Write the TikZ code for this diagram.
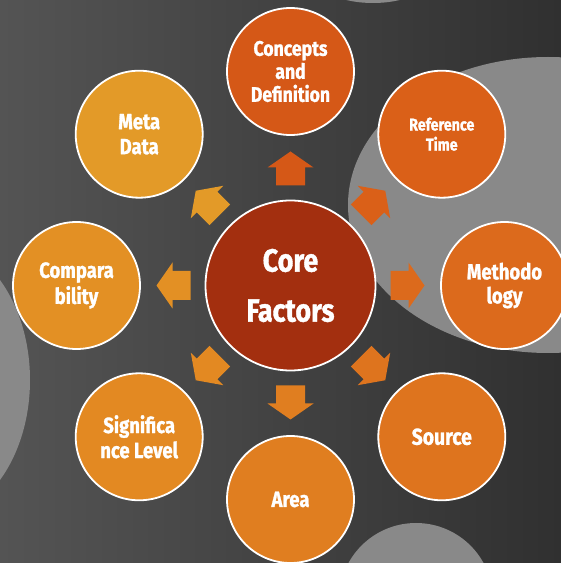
\documentclass[tikz,border=0pt]{standalone}
\usepackage{fontspec}
\setmainfont[FakeStretch=0.84, BoldFeatures={FakeBold=1.2}]{Fira Sans}
\usetikzlibrary{calc}
\definecolor{bgl}{HTML}{545454}
\definecolor{bgr}{HTML}{303030}
\definecolor{lgray}{HTML}{898989}
\definecolor{ccore}{HTML}{A32F0F}
\definecolor{cconc}{HTML}{D55817}
\definecolor{cref}{HTML}{DA6018}
\definecolor{cmeth}{HTML}{DC6A1C}
\definecolor{csrc}{HTML}{DE741E}
\definecolor{carea}{HTML}{E07E20}
\definecolor{csig}{HTML}{E38922}
\definecolor{ccomp}{HTML}{E39024}
\definecolor{cmeta}{HTML}{E39A28}
\newcommand\blockarrow[2]{%
  \fill[#2, shift={($(core)+(#1:117)$)}, rotate=#1]
    (-17,-14.5) -- (1,-14.5) -- (1,-23) -- (17,0) -- (1,23) -- (1,14.5) -- (-17,14.5) -- cycle;}
\begin{document}
\begin{tikzpicture}[x=1pt,y=1pt,
  circ/.style={circle, draw=white, line width=1.8pt, minimum size=127pt, inner sep=0pt,
    align=center, text=white, font=\bfseries\fontsize{21}{23}\selectfont},
  corec/.style={circ, minimum size=170pt, font=\bfseries\fontsize{32}{50}\selectfont}]
\useasboundingbox (0,0) rectangle (561,563);
\begin{scope}
  \clip (0,0) rectangle (561,563);
  \shade[left color=bgl, right color=bgr] (0,0) rectangle (561,563);
  \fill[lgray] (548,358) ellipse [x radius=200, y radius=148];
  \fill[lgray] (-70,183) ellipse [x radius=100, y radius=140];
  \fill[lgray] (416,-37) circle [radius=77];
  \fill[lgray] (373,593) ellipse [x radius=64, y radius=33];
\end{scope}
\coordinate (core) at (290.5,277.5);
\blockarrow{90}{cconc}
\blockarrow{45}{cref}
\blockarrow{0}{cmeth}
\blockarrow{-45}{csrc}
\blockarrow{-90}{carea}
\blockarrow{-135}{csig}
\blockarrow{180}{ccomp}
\blockarrow{135}{cmeta}
\node[corec, fill=ccore] (corefactors) at (core) {Core\\Factors};
\node[circ, fill=cconc] (concepts) at (290.5,491.5) {Concepts\\and\\Definition};
\node[circ, fill=cref, font=\bfseries\fontsize{17}{20}\selectfont] (reftime) at (441.8,428.8) {Reference\\Time};
\node[circ, fill=cmeth, font=\bfseries\fontsize{22}{24}\selectfont] (method) at (504.5,277.5) {Methodo\\logy};
\node[circ, fill=csrc, font=\bfseries\fontsize{23}{25}\selectfont] (source) at (441.8,126.2) {Source};
\node[circ, fill=carea, font=\bfseries\fontsize{22}{24}\selectfont] (area) at (290.5,63.5) {Area};
\node[circ, fill=csig, font=\bfseries\fontsize{22}{25}\selectfont] (signif) at (139.2,126.2) {Significa\\nce Level};
\node[circ, fill=ccomp, font=\bfseries\fontsize{22}{26}\selectfont] (compar) at (76.5,277.5) {Compara\\bility};
\node[circ, fill=cmeta, font=\bfseries\fontsize{22}{25}\selectfont] (meta) at (139.2,428.8) {Meta\\Data};
\end{tikzpicture}
\end{document}
